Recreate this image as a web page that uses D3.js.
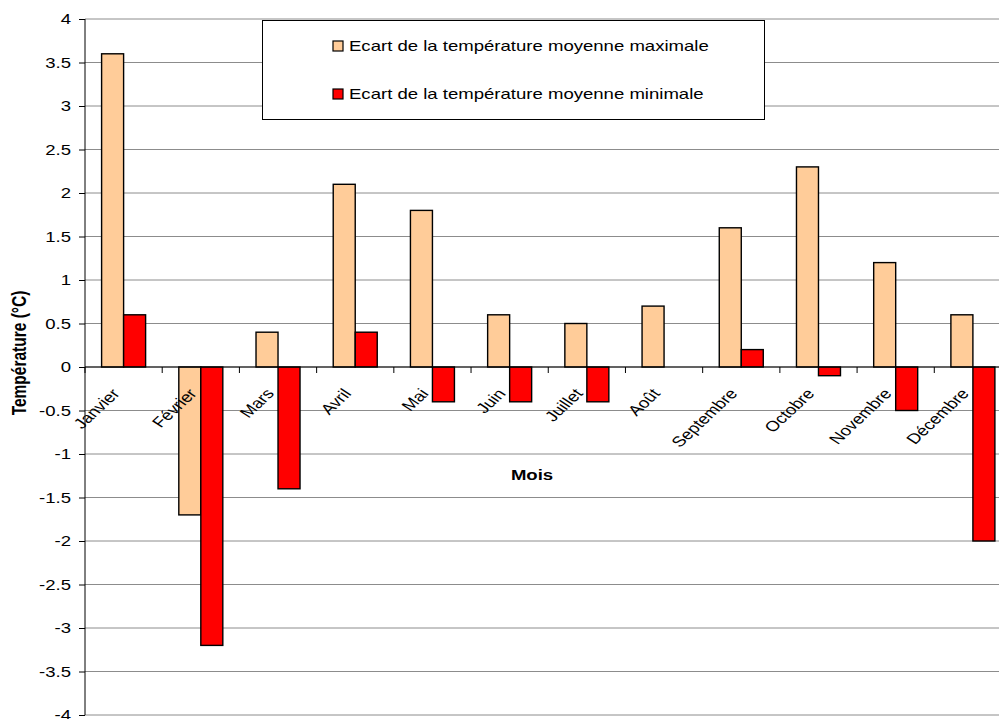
<!DOCTYPE html>
<html>
<head>
<meta charset="utf-8">
<script src="https://cdn.jsdelivr.net/npm/d3@7"></script>
<style>
  body { margin: 0; background: #fff; }
  svg { display: block; font-family: "Liberation Sans", Arial, sans-serif; }
</style>
</head>
<body>
<svg id="chart" width="999" height="719"></svg>
<script>
const months = ["Janvier", "Février", "Mars", "Avril", "Mai", "Juin", "Juillet", "Août", "Septembre", "Octobre", "Novembre", "Décembre"];
const ecartMax = [3.6, -1.7, 0.4, 2.1, 1.8, 0.6, 0.5, 0.7, 1.6, 2.3, 1.2, 0.6];
const ecartMin = [0.6, -3.2, -1.4, 0.4, -0.4, -0.4, -0.4, 0, 0.2, -0.1, -0.5, -2.0];
const seriesNames = ["Ecart de la température moyenne maximale", "Ecart de la température moyenne minimale"];
const seriesColors = ["#FFCC99", "#FF0000"];
const yTicks = [4, 3.5, 3, 2.5, 2, 1.5, 1, 0.5, 0, -0.5, -1, -1.5, -2, -2.5, -3, -3.5, -4];

(function () {
const svg = d3.select("#chart");
const mLeft = 85, mTop = 19, mBottom = 715, mRight = 1011.5;
const SX = 1.28; // wide text rendering

const x = d3.scaleBand().domain(months).range([mLeft, mRight]).paddingInner(0).paddingOuter(0);
const inner = d3.scaleBand().domain([0, 1]).range([0, x.bandwidth()]).paddingInner(0).paddingOuter(0.7545);
const y = d3.scaleLinear().domain([-4, 4]).range([mBottom, mTop]);

// horizontal grid
svg.append("g").selectAll("line").data(yTicks).join("line")
  .attr("x1", mLeft).attr("x2", 999)
  .attr("y1", d => y(d)).attr("y2", d => y(d))
  .attr("stroke", "#8c8c8c").attr("stroke-width", 1);

// y axis
const yAxis = d3.axisLeft(y).tickValues(yTicks).tickSize(6).tickFormat("");
const yg = svg.append("g").attr("transform", `translate(${mLeft},0)`).call(yAxis);
yg.select(".domain").attr("stroke", "#000").attr("d", `M0,${mTop}V${mBottom}`);
yg.selectAll(".tick line").attr("stroke", "#000");
svg.append("g").selectAll("text").data(yTicks).join("text")
  .attr("transform", d => `translate(71,${y(d)}) scale(${SX},1)`)
  .attr("text-anchor", "end").attr("dy", "0.36em")
  .attr("font-size", 14.5).text(d => String(d));

// bars
const data = months.map((m, i) => ({ m, vals: [ecartMax[i], ecartMin[i]] }));
const groups = svg.append("g").selectAll("g").data(data).join("g")
  .attr("transform", d => `translate(${x(d.m)},0)`);
groups.selectAll("rect").data(d => d.vals.map((v, k) => ({ v, k }))).join("rect")
  .attr("x", d => inner(d.k))
  .attr("width", inner.bandwidth())
  .attr("y", d => y(Math.max(0, d.v)))
  .attr("height", d => Math.abs(y(d.v) - y(0)))
  .attr("fill", d => seriesColors[d.k])
  .attr("stroke", "#000").attr("stroke-width", 1.4)
  .attr("display", d => d.v === 0 ? "none" : null);

// x axis at zero
const xAxis = d3.axisBottom(x).tickSize(6).tickSizeOuter(0).tickFormat("");
const xg = svg.append("g").attr("transform", `translate(0,${y(0)})`).call(xAxis);
xg.select(".domain").attr("stroke", "#000").attr("d", `M${mLeft},0H999`);
xg.selectAll(".tick").attr("transform", d => `translate(${x(d)},0)`);
xg.selectAll(".tick line").attr("stroke", "#000");

// month labels, slanted
svg.append("g").selectAll("text").data(months).join("text")
  .attr("transform", d => `translate(${x(d) + x.bandwidth() / 2 - 3},${y(0) + 27}) scale(${SX},1) rotate(-50)`)
  .attr("text-anchor", "end")
  .attr("font-size", 14.5)
  .text(d => d);

// axis titles
svg.append("text")
  .attr("transform", `translate(26,353) scale(${SX},1) rotate(-90)`)
  .attr("text-anchor", "middle")
  .attr("font-size", 15.5).attr("font-weight", "bold")
  .text("Température (°C)");
svg.append("text")
  .attr("transform", `translate(532,480) scale(${SX},1)`)
  .attr("text-anchor", "middle")
  .attr("font-size", 14.5).attr("font-weight", "bold")
  .text("Mois");

// legend
const lg = svg.append("g");
lg.append("rect").attr("x", 262.5).attr("y", 20.5).attr("width", 502).attr("height", 99)
  .attr("fill", "#fff").attr("stroke", "#000").attr("stroke-width", 1);
seriesNames.forEach((name, k) => {
  const cy = 46 + k * 48;
  lg.append("rect").attr("x", 333).attr("y", cy - 5).attr("width", 10).attr("height", 10)
    .attr("fill", seriesColors[k]).attr("stroke", "#000").attr("stroke-width", 1.2);
  lg.append("text").attr("transform", `translate(349,${cy}) scale(${SX},1)`).attr("dy", "0.36em")
    .attr("font-size", 14.5).text(name);
});
})();
</script>
</body>
</html>
